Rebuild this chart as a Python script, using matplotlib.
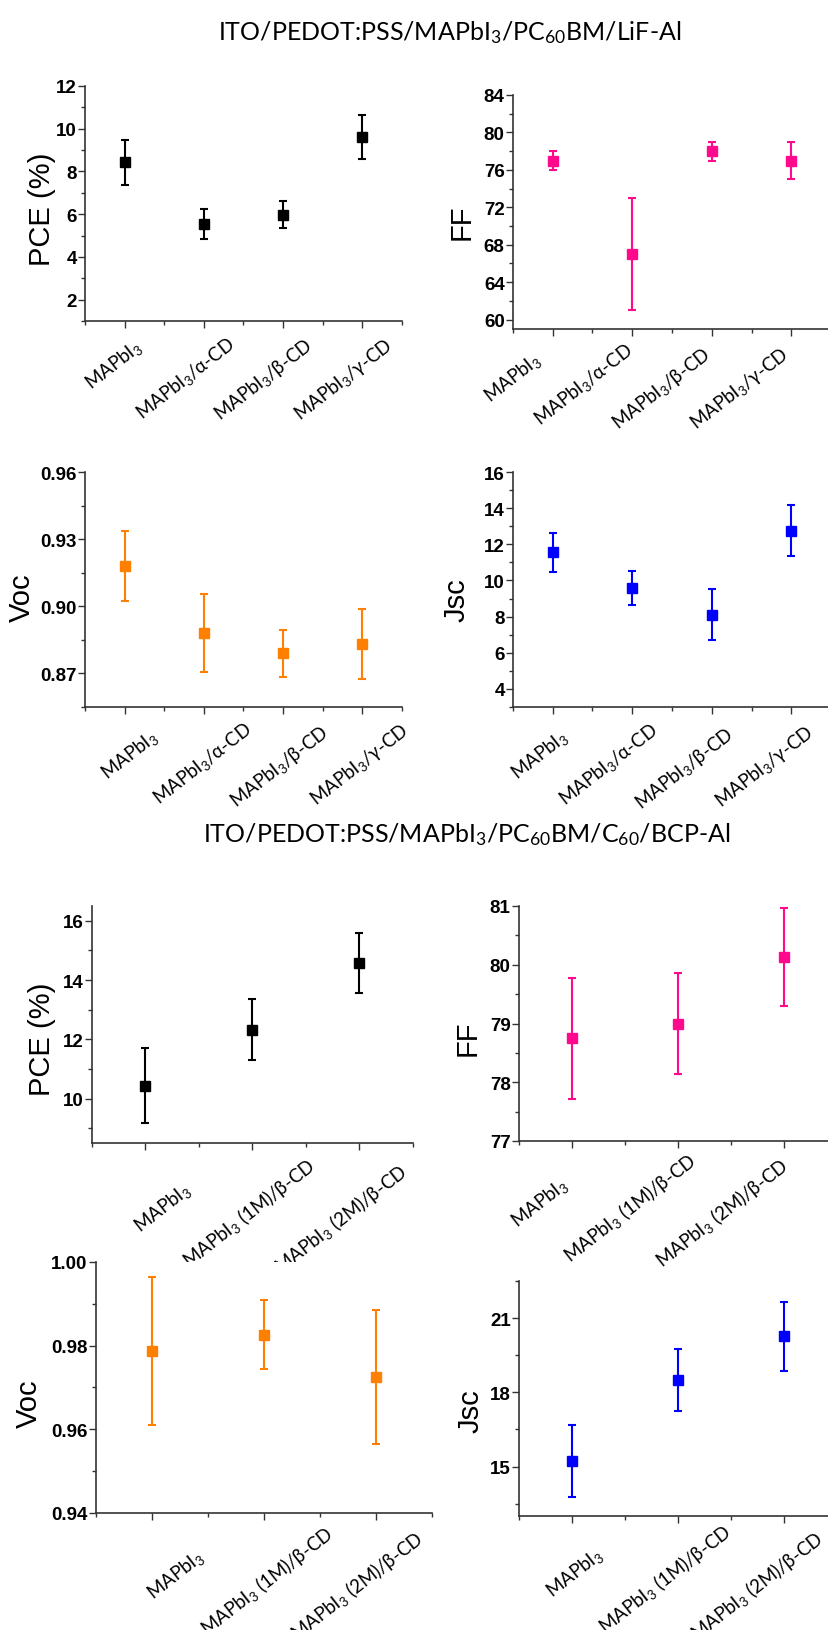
import matplotlib
matplotlib.use("Agg")
import matplotlib.pyplot as plt
from matplotlib.ticker import MultipleLocator, FormatStrFormatter
from matplotlib.transforms import ScaledTranslation

plt.rcParams['mathtext.fontset'] = 'custom'
plt.rcParams['mathtext.rm'] = 'Lato'
plt.rcParams['mathtext.it'] = 'Lato:italic'
plt.rcParams['mathtext.bf'] = 'Lato:bold'

# data
cats_a = ['MAPbI$_3$', 'MAPbI$_3$/α-CD', 'MAPbI$_3$/β-CD', 'MAPbI$_3$/γ-CD']
pce_a = [8.42, 5.56, 5.97, 9.62]
pce_a_err = [1.05, 0.70, 0.63, 1.04]
ff_a = [77.0, 67.0, 78.0, 77.0]
ff_a_err = [1.0, 6.0, 1.0, 2.0]
voc_a = [0.918, 0.888, 0.879, 0.883]
voc_a_err = [0.0158, 0.0175, 0.0105, 0.0156]
jsc_a = [11.55, 9.59, 8.10, 12.75]
jsc_a_err = [1.07, 0.95, 1.41, 1.40]

cats_b = ['MAPbI$_3$', 'MAPbI$_3$ (1M)/β-CD', 'MAPbI$_3$ (2M)/β-CD']
pce_b = [10.43, 12.32, 14.57]
pce_b_err = [1.27, 1.03, 1.02]
ff_b = [78.75, 79.0, 80.13]
ff_b_err = [1.03, 0.855, 0.84]
voc_b = [0.9788, 0.9826, 0.9725]
voc_b_err = [0.0177, 0.0082, 0.016]
jsc_b = [15.23, 18.5, 20.26]
jsc_b_err = [1.45, 1.27, 1.40]

title_a = 'ITO/PEDOT:PSS/MAPbI$_3$/PC$_{60}$BM/LiF-Al'
title_b = 'ITO/PEDOT:PSS/MAPbI$_3$/PC$_{60}$BM/C$_{60}$/BCP-Al'

W, H = 829, 1631
fig = plt.figure(figsize=(W / 100, H / 100), dpi=100)


def panel(box, cats, vals, errs, color, ylabel, ylim, major, minor, fmt, lab_xy, lab_off):
    x0, y0, x1, y1 = box
    ax = fig.add_axes([x0 / W, 1 - y1 / H, (x1 - x0) / W, (y1 - y0) / H])
    xs = list(range(1, len(cats) + 1))
    ax.errorbar(xs, vals, yerr=errs, fmt='s', color=color, ecolor=color,
                markersize=7.5, elinewidth=1.5, capsize=3, capthick=1.5)
    ax.set_xlim(0.5, len(cats) + 0.5)
    ax.set_ylim(*ylim)
    ax.yaxis.set_major_locator(MultipleLocator(major))
    ax.yaxis.set_minor_locator(MultipleLocator(minor))
    ax.yaxis.set_major_formatter(FormatStrFormatter(fmt))
    ax.set_xticks(xs)
    ax.set_xticklabels([])
    ax.set_xticks([x + 0.5 for x in range(0, len(cats) + 1)], minor=True)
    # category labels, placed like the hand-set Origin labels
    base = ax.get_xaxis_transform()
    for x, lab, (dx, dy) in zip(xs, cats, lab_off):
        tr = base + ScaledTranslation(dx / 100, -dy / 100, fig.dpi_scale_trans)
        ax.text(x, 0, lab, transform=tr, rotation=38, ha='right', va='top',
                rotation_mode='anchor', family=['Lato', 'DejaVu Sans'],
                fontsize=13.5, clip_on=False)
    for s in ['top', 'right']:
        ax.spines[s].set_visible(False)
    for s in ['left', 'bottom']:
        ax.spines[s].set_color('#333333')
        ax.spines[s].set_linewidth(1.2)
    ax.tick_params(which='major', direction='out', length=5, width=1, color='#333333')
    ax.tick_params(which='minor', direction='out', length=3, width=1, color='#333333')
    ax.tick_params(axis='y', pad=1)
    for t in ax.get_yticklabels():
        t.set_fontweight('bold')
        t.set_fontsize(13.5)
        t.set_family('Liberation Sans')
    ax.set_ylabel(ylabel, fontsize=21, family='Liberation Sans', va='center')
    ax.yaxis.set_label_coords(*lab_xy)
    return ax


panel((85, 87, 402, 322), cats_a, pce_a, pce_a_err, 'black', 'PCE (%)',
      (1, 12), 2, 1, '%d', (-0.136, 0.48),
      [(9, 15), (23, 12), (21, 13), (21, 13)])
panel((513, 96, 831, 330), cats_a, ff_a, ff_a_err, '#FF0A8C', 'FF',
      (59, 84), 4, 2, '%d', (-0.160, 0.46),
      [(-21, 20), (-8, 10), (-10, 14), (-11, 14)])
panel((85, 473, 402, 708), cats_a, voc_a, voc_a_err, '#FF8000', 'Voc',
      (0.855, 0.96), 0.03, 0.015, '%.2f', (-0.199, 0.47),
      [(25, 19), (40, 11), (37, 14), (37, 12)])
panel((513, 473, 831, 708), cats_a, jsc_a, jsc_a_err, '#0000FF', 'Jsc',
      (3, 16), 2, 1, '%d', (-0.179, 0.46),
      [(6, 19), (17, 12), (13, 16), (14, 14)])

panel((92, 907, 413, 1144), cats_b, pce_b, pce_b_err, 'black', 'PCE (%)',
      (8.5, 16.5), 2, 1, '%d', (-0.156, 0.44),
      [(37, 36), (53, 10), (38, 16)])
panel((519, 907, 837, 1142), cats_b, ff_b, ff_b_err, '#FF0A8C', 'FF',
      (77, 81), 1, 0.5, '%d', (-0.160, 0.44),
      [(-13, 33), (9, 7), (-5, 12)])
panel((96, 1263, 432, 1514), cats_b, voc_b, voc_b_err, '#FF8000', 'Voc',
      (0.94, 1.00), 0.02, 0.01, '%.2f', (-0.20, 0.44),
      [(43, 33), (60, 8), (38, 13)])
panel((519, 1282, 837, 1517), cats_b, jsc_b, jsc_b_err, '#0000FF', 'Jsc',
      (13, 22.5), 3, 1.5, '%d', (-0.151, 0.45),
      [(22, 28), (44, 3), (30, 10)])

fig.text(450 / W, 1 - 33 / H, title_a, ha='center', va='center',
         fontsize=18, family='Lato')
fig.text(467 / W, 1 - 835 / H, title_b, ha='center', va='center',
         fontsize=18, family='Lato')

fig.savefig('out.png', dpi=100)
